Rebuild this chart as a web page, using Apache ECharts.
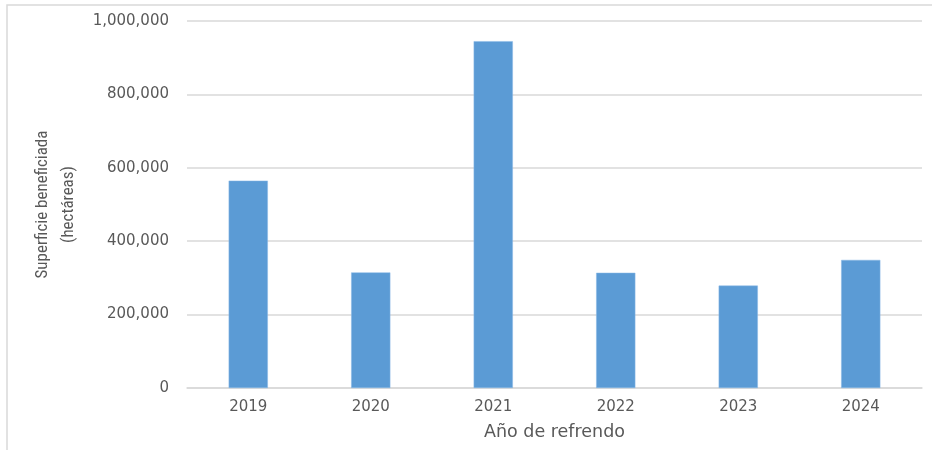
<!DOCTYPE html>
<html>
<head>
<meta charset="utf-8">
<script src="https://cdn.jsdelivr.net/npm/echarts@6/dist/echarts.min.js"></script>
<style>
  html, body { margin: 0; padding: 0; background: #fff; }
  #chart { width: 932px; height: 450px; }
</style>
</head>
<body>
<div id="chart"></div>
<script>
// data
var years = ['2019', '2020', '2021', '2022', '2023', '2024'];
var superficie = [565000, 315000, 945000, 314000, 279000, 349000];
var yTicks = [0, 200000, 400000, 600000, 800000, 1000000];

var textColor = '#595959';
var font = '"DejaVu Sans", "Noto Sans", sans-serif';

var chart = echarts.init(document.getElementById('chart'));
chart.setOption({
    animation: false,
    graphic: [{
        type: 'rect',
        shape: { x: 7, y: 5, width: 940, height: 460 },
        style: { fill: 'none', stroke: '#d9d9d9', lineWidth: 1.5 }
    }],
    grid: { left: 187, right: 10, top: 21, bottom: 62 },
    xAxis: {
        type: 'category',
        data: years,
        name: 'Año de refrendo',
        nameLocation: 'middle',
        nameGap: 35,
        nameTextStyle: { color: textColor, fontSize: 17.5, fontFamily: font },
        axisLine: { lineStyle: { color: '#d9d9d9', width: 1.5 } },
        axisTick: { show: false },
        axisLabel: { color: textColor, fontSize: 15, fontFamily: font, margin: 12 }
    },
    yAxis: {
        type: 'value',
        min: yTicks[0],
        max: yTicks[yTicks.length - 1],
        interval: 200000,
        name: 'Superficie beneficiada\n(hectáreas)',
        nameLocation: 'middle',
        nameGap: 98,
        nameTextStyle: {
            color: textColor, fontSize: 17, lineHeight: 26,
            fontFamily: '"Liberation Sans Narrow", "Roboto Condensed", sans-serif'
        },
        axisLine: { show: false },
        axisTick: { show: false },
        splitLine: { lineStyle: { color: '#d9d9d9', width: 1.5 } },
        axisLabel: {
            color: textColor, fontSize: 15, fontFamily: font, margin: 18,
            formatter: function (v) { return v.toLocaleString('en-US'); }
        }
    },
    series: [{
        type: 'bar',
        data: superficie,
        barWidth: '32%',
        itemStyle: { color: '#5b9bd5', borderColor: '#8ab8e6', borderWidth: 0.5 }
    }]
});
</script>
</body>
</html>
